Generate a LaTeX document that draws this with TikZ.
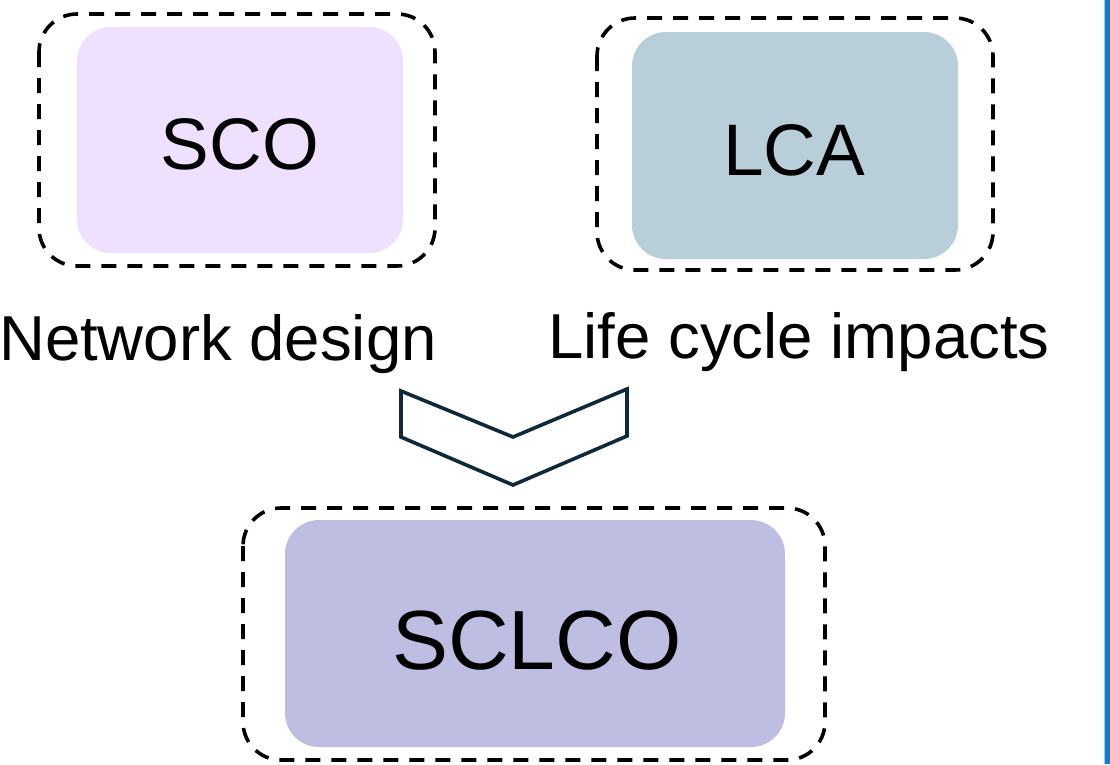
\documentclass[tikz,border=0pt]{standalone}
\usepackage{fontspec}
\setmainfont{Liberation Sans}
\definecolor{scofill}{HTML}{EEE0FE}
\definecolor{lcafill}{HTML}{B8CFDA}
\definecolor{sclcofill}{HTML}{BEBEE3}
\definecolor{chev}{HTML}{0E2A3A}
\definecolor{barblue}{HTML}{0B7FCC}
\begin{document}
\begin{tikzpicture}[x=1pt,y=-1pt,
  outerbox/.style={draw=black,line width=3.6pt,dash pattern=on 15pt off 11pt,rounded corners=38pt},
  innerbox/.style={rounded corners=34pt},
  lbl/.style={inner sep=0pt,anchor=base}]
\useasboundingbox (0,0) rectangle (1110,764);
\fill[white] (0,0) rectangle (1110,764);
\fill[barblue] (1105,0) rectangle (1110,764);
\draw[barblue!40,line width=0.8pt] (1104.5,0) -- (1104.5,764);
% SCO
\fill[scofill,innerbox] (77,27) rectangle (403,253);
\draw[outerbox] (39,14) rectangle (435,266);
\node[lbl,font=\fontsize{73}{80}\selectfont] (sco) at (240,169) {SCO};
% LCA
\fill[lcafill,innerbox] (632,32) rectangle (958,259);
\draw[outerbox] (597,18) rectangle (993,270);
\node[lbl,font=\fontsize{73}{80}\selectfont] (lca) at (794,175) {LCA};
% labels
\node[lbl,font=\fontsize{63.5}{70}\selectfont] (nd) at (218,360) {Network design};
\node[lbl,font=\fontsize{63.5}{70}\selectfont] (lci) at (799,358) {Life cycle impacts};
% chevron
\draw[chev,line width=3.6pt,line join=miter] (401,391) -- (513,437) -- (627,389) -- (627,436) -- (513,485) -- (401,437) -- cycle;
% SCLCO
\fill[sclcofill,innerbox] (285,520) rectangle (785,747);
\draw[outerbox] (243,508) rectangle (825,760);
\node[lbl,font=\fontsize{84}{90}\selectfont] (sclco) at (537,669) {SCLCO};
\end{tikzpicture}
\end{document}
